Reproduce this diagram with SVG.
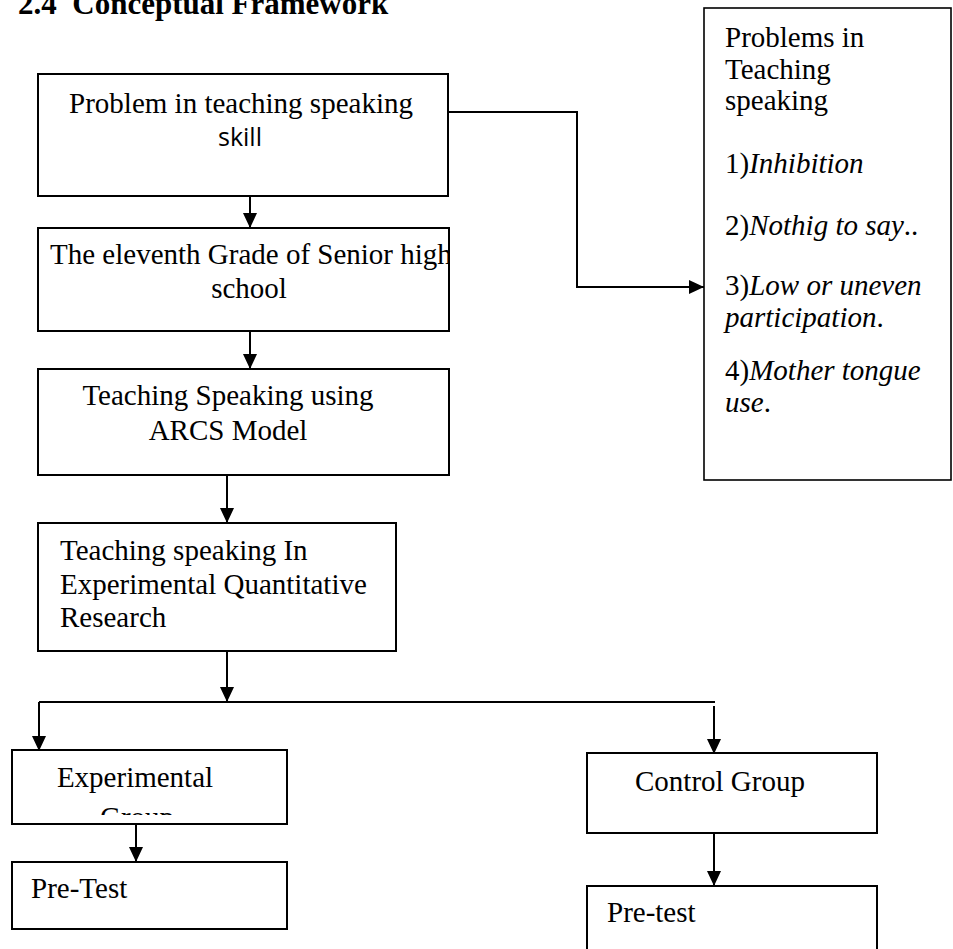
<svg xmlns="http://www.w3.org/2000/svg" width="953" height="949" viewBox="0 0 953 949">
<style>
  .box { fill: #fff; stroke: #000; stroke-width: 2; }
  .t { font-family: "Liberation Serif", "Times New Roman", serif; font-size: 29px; fill: #000; }
  .i { font-style: italic; }
  .sans { font-family: "Open Sans", "Liberation Sans", sans-serif; font-size: 25px; fill: #000; }
  .title { font-family: "Liberation Serif", "Times New Roman", serif; font-size: 31px; font-weight: bold; fill: #000; }
  .c { fill: none; stroke: #000; stroke-width: 2; }
</style>
<defs>
  <marker id="ah" markerUnits="userSpaceOnUse" markerWidth="15" markerHeight="14" refX="15" refY="7" orient="auto">
    <path d="M0,0 L15,7 L0,14 z" fill="#000"/>
  </marker>
  <clipPath id="clip2"><rect x="39" y="229" width="409" height="101"/></clipPath>
  <clipPath id="clipExp"><rect x="13" y="751" width="273" height="64"/></clipPath>
</defs>
<rect x="0" y="0" width="953" height="949" fill="#fff"/>

<text class="title" x="18" y="14" xml:space="preserve">2.4  Conceptual Framework</text>

<g id="connectors">
  <path class="c" d="M250,196 V228" style="marker-end:url(#ah)"/>
  <path class="c" d="M250,331 V369" style="marker-end:url(#ah)"/>
  <path class="c" d="M227,475 V523" style="marker-end:url(#ah)"/>
  <path class="c" d="M227,651 V702" style="marker-end:url(#ah)"/>
  <path class="c" d="M39,702 H715"/>
  <path class="c" d="M39,702 V751" style="marker-end:url(#ah)"/>
  <path class="c" d="M714,706 V754" style="marker-end:url(#ah)"/>
  <path class="c" d="M136,824 V862" style="marker-end:url(#ah)"/>
  <path class="c" d="M714,834 V886" style="marker-end:url(#ah)"/>
  <path class="c" d="M448,112 H577 V287 H704" style="marker-end:url(#ah)"/>
</g>

<g id="node-problem">
  <rect class="box" x="38" y="74" width="410" height="122"/>
  <text class="t" x="241" y="113" text-anchor="middle">Problem in teaching speaking</text>
  <text class="sans" x="240" y="146" text-anchor="middle">skill</text>
</g>

<g id="node-eleventh">
  <rect class="box" x="38" y="228" width="411" height="103"/>
  <g clip-path="url(#clip2)">
    <text class="t" x="50" y="264">The eleventh Grade of Senior high</text>
  </g>
  <text class="t" x="249" y="298" text-anchor="middle">school</text>
</g>

<g id="node-arcs">
  <rect class="box" x="38" y="369" width="411" height="106"/>
  <text class="t" x="228" y="405" text-anchor="middle">Teaching Speaking using</text>
  <text class="t" x="228" y="440" text-anchor="middle">ARCS Model</text>
</g>

<g id="node-research">
  <rect class="box" x="38" y="523" width="358" height="128"/>
  <text class="t" x="60" y="560">Teaching speaking In</text>
  <text class="t" x="60" y="594">Experimental Quantitative</text>
  <text class="t" x="60" y="627">Research</text>
</g>

<g id="node-problems-list">
  <rect class="box" x="704" y="8" width="247" height="472" style="stroke-width:1.6"/>
  <text class="t" x="725" y="47">Problems in</text>
  <text class="t" x="725" y="79">Teaching</text>
  <text class="t" x="725" y="110">speaking</text>
  <text class="t" x="725" y="173">1)<tspan class="i">Inhibition</tspan></text>
  <text class="t" x="725" y="235">2)<tspan class="i">Nothig to say</tspan>..</text>
  <text class="t" x="725" y="295">3)<tspan class="i">Low or uneven</tspan></text>
  <text class="t" x="725" y="327"><tspan class="i">participation</tspan>.</text>
  <text class="t" x="725" y="380">4)<tspan class="i">Mother tongue</tspan></text>
  <text class="t" x="725" y="412"><tspan class="i">use</tspan>.</text>
</g>

<g id="node-experimental">
  <rect class="box" x="12" y="750" width="275" height="74"/>
  <g clip-path="url(#clipExp)">
    <text class="t" x="135" y="787" text-anchor="middle">Experimental</text>
    <text class="t" x="137" y="827" text-anchor="middle">Group</text>
  </g>
</g>

<g id="node-control">
  <rect class="box" x="587" y="753" width="290" height="80"/>
  <text class="t" x="635" y="791">Control Group</text>
</g>

<g id="node-pretest-exp">
  <rect class="box" x="12" y="862" width="275" height="67"/>
  <text class="t" x="31" y="898">Pre-Test</text>
</g>

<g id="node-pretest-ctrl">
  <rect class="box" x="587" y="886" width="290" height="80"/>
  <text class="t" x="607" y="922">Pre-test</text>
</g>
</svg>
